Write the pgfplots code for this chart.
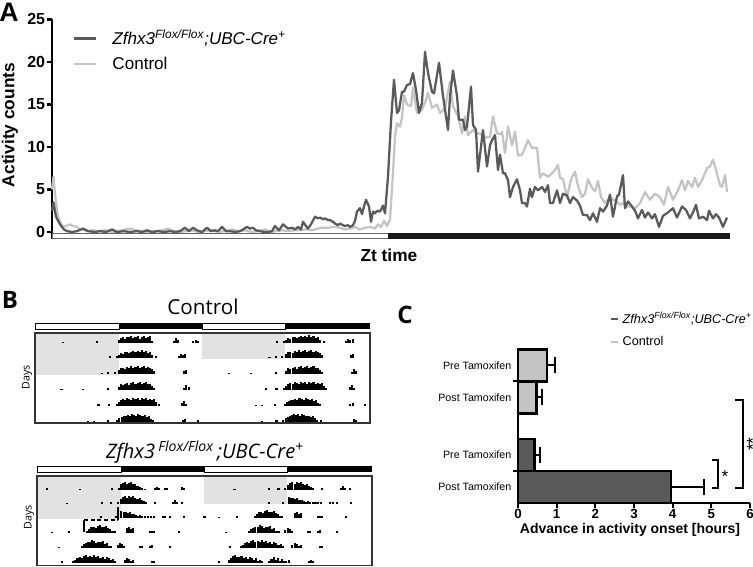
\documentclass[border=0pt]{standalone}
\usepackage{pgfplots}
\pgfplotsset{compat=1.18}
\usepackage{pgfplotstable}
\usepackage{fontspec}
\setmainfont{Liberation Sans}
\newfontfamily\bfont{Open Sans}
\definecolor{dk}{HTML}{5A5A5A}
\definecolor{lt}{HTML}{C4C4C4}
\definecolor{shadegray}{HTML}{E2E2E2}

% ---------- Panel A data (px = horizontal position, v = activity counts)
\pgfplotstableread{
px v
52 2.5
53.5 3.5
56 1.8
60 0.9
64 0.3
67 0.1
72 0.0
77 0.1
83 0.4
88 0.1
95 0.0
100 0.1
106 0.0
112 0.3
117 0.0
124 0.1
130 0.0
137 0.1
142 0.0
147 0.2
152 0.0
158 0.1
164 0.0
170 0.1
175 0.0
180 0.1
185 0.5
189 0.1
193 0.5
197 0.2
202 0.0
207 0.5
211 0.1
215 0.2
218 0.1
222 0.6
226 0.1
230 0.1
235 0.0
240 0.1
243 0.3
247 0.6
250 0.4
253 0.5
256 0.2
260 0.1
264 0.0
268 0.0
272 0.1
275 0.7
279 0.2
283 0.9
286 0.6
288 0.4
292 0.5
295 0.3
298 0.6
301 0.3
303 1.2
306 0.7
308 0.4
311 0.9
315 1.8
318 1.6
320 1.7
323 1.5
325 1.6
328 1.4
330 1.4
333 1.2
335 1.0
338 0.8
340 1.0
343 0.8
345 0.7
348 0.8
350 0.6
353 0.8
355 1.3
357 2.4
360 2.8
362 2.1
364 3.0
366 3.8
369 3.0
371 1.2
373 2.4
375 2.2
377 2.5
380 2.4
383 3.1
385 2.2
388 6.5
391 13.0
394 17.9
397 14.0
399 14.3
402 16.5
404 16.5
407 17.3
410 17.4
413 18.7
416 16.7
419 14.0
422 15.2
425 21.2
428 18.7
432 16.5
434 16.3
439 19.9
443 16.0
448 12.0
450 15.9
453 19.0
457 16.0
459 13.2
463 13.2
465 12.0
467 12.4
471 17.1
473 12.6
476 12.0
478 7.1
483 12.0
487 7.7
490 10.2
492 10.8
495 11.4
498 7.3
500 9.1
503 6.9
505 6.9
508 6.1
510 4.1
513 5.3
517 6.2
520 4.9
522 3.4
525 3.4
527 3.0
530 5.1
532 4.1
535 5.3
538 4.9
542 5.3
545 4.7
548 5.5
550 3.4
553 3.4
557 4.9
560 3.4
563 4.5
567 4.3
570 3.4
573 4.1
577 3.7
580 3.1
583 2.0
587 2.0
590 1.4
593 2.2
597 1.2
600 2.8
603 2.4
607 3.1
610 4.4
613 1.8
617 4.2
619 4.4
623 6.7
625 2.8
628 3.6
632 3.0
635 2.5
638 1.6
642 2.6
645 1.7
648 2.3
652 1.6
655 2.1
659 0.6
663 1.9
668 2.3
673 2.8
677 1.7
682 3.0
686 2.6
690 1.6
693 2.3
696 3.2
699 1.6
703 1.8
707 1.4
709 2.5
713 1.6
716 2.1
719 1.7
723 0.6
727 1.7
}\dataZ

\pgfplotstableread{
px v
52 5.0
53.5 6.5
55 4.5
58 1.8
61 1.0
63 0.6
66 0.7
70 0.9
73 0.7
77 0.6
80 0.3
83 0.3
88 0.1
93 0.2
98 0.1
105 0.2
112 0.0
118 0.1
125 0.3
130 0.4
136 0.2
142 0.1
148 0.0
155 0.1
162 0.2
168 0.4
174 0.1
180 0.0
186 0.1
192 0.2
198 0.0
205 0.1
212 0.2
218 0.0
225 0.1
232 0.3
238 0.1
245 0.2
252 0.0
258 0.1
265 0.3
270 0.0
276 0.1
282 0.2
288 0.1
295 0.2
300 0.2
306 0.3
312 0.2
318 0.4
322 0.5
328 0.5
334 0.6
340 0.5
345 0.3
350 0.4
355 0.6
360 0.3
365 0.5
370 0.6
375 0.4
378 0.9
381 0.6
384 1.3
387 0.7
390 1.5
393 7.0
395 11.2
397 12.8
400 12.4
402 13.5
404 16.1
407 15.0
411 14.8
413 17.0
417 14.0
422 14.4
425 15.2
428 16.4
432 14.6
437 15.0
440 14.0
445 14.6
450 17.7
453 14.8
458 13.6
462 11.6
465 13.6
468 11.4
473 12.0
477 11.6
480 11.6
485 11.1
490 11.2
493 13.6
497 11.6
500 11.5
502 11.8
505 9.3
508 12.4
512 10.2
515 11.8
518 9.0
522 9.1
525 9.9
528 10.8
532 9.9
537 9.9
540 6.4
543 6.9
548 6.5
552 6.9
555 7.3
558 7.9
560 6.4
563 6.2
567 4.1
571 6.2
575 7.1
578 5.4
582 4.1
585 4.5
588 6.2
592 5.2
595 4.8
598 6.0
601 4.1
605 3.4
610 4.1
613 3.8
617 3.6
620 3.2
623 3.4
627 3.0
630 3.0
635 2.8
640 3.4
645 4.7
650 3.8
655 4.5
660 4.1
664 3.2
668 5.3
673 3.8
678 4.9
682 6.1
685 4.9
688 6.0
692 5.3
695 6.4
698 5.3
702 6.1
707 7.5
710 7.7
713 8.5
716 7.3
720 5.5
722 5.3
725 6.7
727 4.7
}\dataC

% ---------- Panel B actogram data: hour of day, relative bar height
\pgfplotstableread{
x h
4.0 0.15
8.9 0.25
12.0 0.4
12.3 0.6
12.6 0.7
12.9 0.5
13.2 0.8
13.5 0.7
13.8 0.9
14.1 0.6
14.4 0.8
14.7 0.9
15.0 0.5
15.3 0.8
15.6 0.9
15.9 0.6
16.2 0.7
16.5 0.9
16.8 0.3
19.9 0.3
20.2 0.6
20.5 0.4
22.7 0.2
23.1 0.4
23.4 0.3
}\cA
\pgfplotstableread{
x h
10.7 0.2
11.7 0.3
12.0 0.4
12.3 0.6
12.6 0.5
12.9 0.7
13.2 0.8
13.5 0.6
13.8 0.8
14.1 0.9
14.4 0.7
14.7 0.9
15.0 0.8
15.3 1.0
15.6 0.7
15.9 0.9
16.2 0.6
16.5 0.8
16.8 0.4
17.4 0.3
20.6 0.3
20.9 0.5
21.2 0.4
21.5 0.5
}\cB
\pgfplotstableread{
x h
9.6 0.15
10.5 0.2
11.4 0.2
12.0 0.5
12.3 0.7
12.6 0.8
12.9 0.6
13.2 0.9
13.5 0.8
13.8 1.0
14.1 0.7
14.4 0.9
14.7 1.0
15.0 0.8
15.3 0.9
15.6 1.0
15.9 0.7
16.2 0.9
16.5 0.8
16.8 0.6
17.1 0.4
21.3 0.4
21.6 0.5
}\cC
\pgfplotstableread{
x h
3.8 0.15
6.9 0.15
10.5 0.25
12.0 0.4
12.3 0.7
12.6 0.6
12.9 0.8
13.2 0.9
13.5 0.6
13.8 0.9
14.1 1.0
14.4 0.8
14.7 0.9
15.0 1.0
15.3 0.7
15.6 0.9
15.9 1.0
16.2 0.7
16.5 0.8
16.8 0.5
17.1 0.3
21.4 0.3
21.7 0.6
22.0 0.4
}\cD
\pgfplotstableread{
x h
9.1 0.2
10.6 0.25
11.7 0.3
12.0 0.5
12.3 0.7
12.6 0.9
12.9 0.8
13.2 1.0
13.5 0.9
13.8 0.7
14.1 1.0
14.4 0.9
14.7 1.0
15.0 0.8
15.3 1.0
15.6 0.9
15.9 1.0
16.2 0.8
16.5 0.9
16.8 0.7
17.1 0.9
17.4 0.5
17.7 0.3
21.1 0.4
21.4 0.6
21.7 0.3
}\cE
\pgfplotstableread{
x h
7.6 0.15
8.5 0.15
10.4 0.2
11.8 0.3
12.1 0.5
12.4 0.6
12.7 0.8
13.0 0.7
13.3 0.9
13.6 0.8
13.9 1.0
14.2 0.9
14.5 0.7
14.8 1.0
15.1 0.9
15.4 0.8
15.7 0.9
16.0 0.6
16.3 0.7
16.6 0.4
16.9 0.3
21.2 0.3
21.5 0.4
23.3 0.2
}\cF
\pgfplotstableread{
x h
8.5 0.15
10.6 0.2
11.6 0.3
11.9 0.5
12.2 0.6
12.5 0.8
12.8 0.9
13.1 1.0
13.4 0.9
13.7 1.0
14.0 0.8
14.3 1.0
14.6 0.9
14.9 0.7
15.2 0.8
15.5 0.6
15.8 0.7
16.1 0.5
16.4 0.3
17.0 0.2
21.7 0.4
22.0 0.3
}\cG

\pgfplotstableread{
x h
1.4 0.2
6.2 0.15
10.7 0.25
11.8 0.3
12.0 0.7
12.3 0.9
12.6 1.0
12.9 0.8
13.2 0.9
13.5 1.0
13.8 0.7
14.1 0.8
14.4 0.5
14.7 0.4
15.0 0.3
15.5 0.15
16.9 0.3
17.2 0.4
17.5 0.2
18.3 0.2
18.6 0.3
20.8 0.4
21.0 0.3
}\mA
\pgfplotstableread{
x h
4.3 0.15
9.3 0.2
10.6 0.25
11.6 0.3
12.0 0.6
12.3 0.9
12.6 1.0
12.9 0.8
13.2 1.0
13.5 0.9
13.8 1.0
14.1 0.8
14.4 0.6
14.7 0.7
15.0 0.5
15.3 0.4
15.6 0.3
16.9 0.2
19.5 0.3
19.8 0.5
20.1 0.3
20.8 0.25
}\mB
\pgfplotstableread{
x h
9.2 0.2
11.3 0.2
12.1 0.9
12.4 0.8
12.7 0.7
13.0 0.6
13.3 0.7
13.6 0.5
13.9 0.5
14.2 0.4
14.5 0.3
14.8 0.4
15.1 0.3
15.5 0.25
15.9 0.3
16.3 0.2
16.7 0.25
18.0 0.3
18.4 0.2
19.0 0.2
21.0 0.2
}\mC
\pgfplotstableread{
x h
0.0 0.2
2.1 0.15
4.6 0.2
7.2 0.3
7.5 0.5
7.8 0.7
8.1 0.8
8.4 0.6
8.7 0.9
9.0 1.0
9.3 0.8
9.6 0.7
9.9 0.9
10.2 0.6
10.5 0.5
10.8 0.3
11.1 0.2
12.9 0.6
13.2 0.7
13.5 0.5
13.8 0.6
16.2 0.3
16.5 0.25
16.8 0.2
20.3 0.2
}\mD
\pgfplotstableread{
x h
3.1 0.15
6.4 0.3
6.7 0.5
7.0 0.6
7.3 0.8
7.6 0.7
7.9 1.0
8.2 0.9
8.5 0.6
8.8 0.8
9.1 0.7
9.4 0.9
9.7 0.5
10.0 0.6
10.3 0.3
10.6 0.2
11.6 0.4
11.9 0.6
12.2 0.5
12.5 0.3
14.8 0.3
15.1 0.2
16.2 0.3
16.5 0.4
19.0 0.2
}\mE
\pgfplotstableread{
x h
3.6 0.2
5.2 0.25
5.5 0.4
5.8 0.6
6.1 0.7
6.4 0.6
6.7 0.9
7.0 1.0
7.3 0.8
7.6 0.9
7.9 0.7
8.2 1.0
8.5 0.8
8.8 0.9
9.1 0.6
9.4 0.7
9.7 0.5
10.0 0.8
10.3 0.6
10.6 0.4
10.9 0.5
11.2 0.3
12.6 0.4
12.9 0.6
13.2 0.5
13.5 0.3
13.8 0.4
16.5 0.3
16.8 0.2
}\mF
\pgfplotstableread{
x h
2.1 0.2
3.5 0.4
3.8 0.6
4.1 0.9
4.4 1.0
4.7 0.7
5.0 0.8
5.3 0.9
5.6 0.6
5.9 0.7
6.2 0.5
6.5 0.8
6.8 0.6
7.1 0.4
7.4 0.6
7.7 0.3
8.0 0.4
8.3 0.3
9.3 0.3
9.6 0.5
9.9 0.7
10.2 0.4
10.5 0.6
10.8 0.3
11.1 0.5
11.4 0.3
11.7 0.2
12.1 0.4
15.0 0.3
15.3 0.4
15.6 0.2
}\mG

\pgfplotsset{acto/.style={scale only axis, width=251.25pt, height=6pt,
  xmin=0, xmax=48, ymin=0, ymax=1, hide axis, anchor=south west, clip=false}}
% #1,#2 = left edge and baseline in picture pixels
\newcommand{\actrow}[4]{%
  \begin{axis}[acto, at={(#1*0.75pt,-#2*0.75pt)}]
  \addplot[ycomb, black, line width=1.55pt, no marks] table[x=x, y=h] {#3};
  \addplot[ycomb, black, line width=1.55pt, no marks] table[x expr=\thisrow{x}+24, y=h] {#4};
  \end{axis}}

\begin{document}
\begin{tikzpicture}[x=0.75pt, y=-0.75pt]
\useasboundingbox (0,0) rectangle (753,567);

% ================= Panel A =================
\node[font=\bfseries\fontsize{20}{22}\selectfont] at (9,12) {A};
\begin{axis}[
  at={(39pt,-179.1pt)}, anchor=south west, scale only axis,
  width=508.5pt, height=164.5pt,
  xmin=0, xmax=24, ymin=-0.8, ymax=25,
  axis x line=none, axis y line*=left,
  y axis line style={line width=1.6pt},
  ytick={0,5,10,15,20,25},
  ytick style={line width=1.6pt, black},
  tick align=outside, major tick length=4pt,
  /pgf/number format/assume math mode=true,
  yticklabel style={font=\bfseries\fontsize{12}{14}\selectfont, inner sep=1pt},
  ylabel={Activity counts},
  ylabel style={font=\bfseries\fontsize{13}{15}\selectfont, at={(axis description cs:-0.062,0.519)}, anchor=center},
  clip=false,
  legend style={draw=none, fill=none, at={(axis description cs:0.030,0.958)}, anchor=north west,
    font=\fontsize{12.8}{15}\selectfont, inner sep=0pt, row sep=5.5pt, nodes={inner sep=1pt}, cells={anchor=west}},
  legend image code/.code={\draw[#1, line width=1.9pt] (0pt,0pt) -- (16.5pt,0pt);},
  /tikz/every odd column/.append style={column sep=10.5pt},
]
\addlegendimage{dk}
\addlegendentry{\itshape Zfhx3\textsuperscript{Flox/Flox};UBC-Cre\textsuperscript{+}}
\addlegendimage{lt}
\addlegendentry{Control}
\addplot[lt, line width=1.7pt, line join=round, no marks, forget plot] table[x expr=(\thisrow{px}-52)/28.25, y=v] {\dataC};
\addplot[dk, line width=1.7pt, line join=round, no marks, forget plot] table[x expr=(\thisrow{px}-52)/28.25, y=v] {\dataZ};
\draw[black!60, line width=0.7pt, fill=white] (axis cs:0,-0.15) rectangle (axis cs:11.9,-0.75);
\fill[black!90] (axis cs:11.9,-0.1) rectangle (axis cs:24,-0.82);
\node[font=\bfseries\fontsize{13}{15}\selectfont] at (axis description cs:0.497,-0.074) {Zt time};
\end{axis}

% ================= Panel B =================
\node[font=\bfont\bfseries\fontsize{18}{20}\selectfont] at (10,300) {B};
\node[font=\bfont\fontsize{15.5}{18}\selectfont] at (203,307) {Control};
\node[font=\bfont\itshape\fontsize{15}{18}\selectfont] at (205,452) {Zfhx3\,\textsuperscript{Flox/Flox}\,;UBC-Cre\textsuperscript{+}};
% LD bars
\draw[line width=0.6pt, fill=white] (35,323) rectangle (119,329);
\fill[black] (119,323) rectangle (202,329);
\draw[line width=0.6pt, fill=white] (202,323) rectangle (285,329);
\fill[black] (285,323) rectangle (370,329);
\draw[line width=0.6pt, fill=white] (37,466) rectangle (121,472);
\fill[black] (121,466) rectangle (204,472);
\draw[line width=0.6pt, fill=white] (204,466) rectangle (287,472);
\fill[black] (287,466) rectangle (372,472);
% shaded light periods
\fill[shadegray] (35,333) rectangle (119,375);
\fill[shadegray] (202,333) rectangle (285,359);
\fill[shadegray] (37,476) rectangle (121,519);
\fill[shadegray] (204,476) rectangle (287,504);
% Days labels
\node[rotate=90, font=\bfont\fontsize{8}{9}\selectfont] at (27,377) {Days};
\node[rotate=90, font=\bfont\fontsize{8}{9}\selectfont] at (29,517) {Days};
% control rows
\actrow{35}{343}{\cA}{\cB}
\actrow{35}{358}{\cB}{\cC}
\actrow{35}{374}{\cC}{\cD}
\actrow{35}{390}{\cD}{\cE}
\actrow{35}{406}{\cE}{\cF}
\actrow{35}{422}{\cF}{\cG}
% mutant rows
\actrow{37}{490}{\mA}{\mB}
\actrow{37}{504}{\mB}{\mC}
\actrow{37}{518}{\mC}{\mD}
\actrow{37}{533}{\mD}{\mE}
\actrow{37}{548}{\mE}{\mF}
\actrow{37}{563}{\mF}{\mG}
% frames
\draw[line width=1.1pt, black!80] (35,333) rectangle (370,423);
\draw[line width=1.1pt, black!80] (37,476) rectangle (372,565.5);
% onset shift marker
\draw[densely dashed, line width=0.8pt] (84,520) -- (118,520);
\draw[line width=0.8pt] (118,507) -- (118,520);
\draw[line width=0.8pt] (84,520) -- (84,532);

% ================= Panel C =================
\node[font=\bfont\bfseries\fontsize{18}{20}\selectfont] at (405,315) {C};
\begin{axis}[
  at={(388.5pt,-377.25pt)}, anchor=south west, scale only axis,
  width=174pt, height=115.2pt,
  xmin=0, xmax=6, ymin=0, ymax=4.8,
  xbar, bar width=1, bar shift=0pt,
  axis x line*=bottom, axis y line*=left,
  axis line style={line width=1.5pt},
  xtick={0,1,2,3,4,5,6}, tick align=outside, major tick length=3.5pt,
  xtick style={line width=1.5pt, black},
  ytick={0.5,1.5,3.3,4.3},
  yticklabels={Post Tamoxifen,Pre Tamoxifen,Post Tamoxifen,Pre Tamoxifen},
  ytick style={draw=none},
  yticklabel style={font=\fontsize{8}{10}\selectfont, xshift=2pt},
  xticklabel style={font=\bfseries\fontsize{10}{12}\selectfont, yshift=2.5pt},
  /pgf/number format/assume math mode=true,
  xlabel={Advance in activity onset [hours]},
  xlabel style={font=\bfseries\fontsize{10.5}{12}\selectfont, at={(axis description cs:0.483,-0.172)}, anchor=center},
  clip=false,
  legend style={draw=none, fill=none, at={(axis description cs:0.397,1.255)}, anchor=north west,
    font=\fontsize{9.5}{11}\selectfont, inner sep=0pt, row sep=6pt, nodes={inner sep=1pt}, cells={anchor=west}},
  legend image code/.code={\draw[#1, line width=1.5pt] (0pt,0pt) -- (5.25pt,0pt);},
  /tikz/every odd column/.append style={column sep=1.5pt},
]
\addlegendimage{dk}
\addlegendentry{\itshape Zfhx3\textsuperscript{Flox/Flox};UBC-Cre\textsuperscript{+}}
\addlegendimage{lt}
\addlegendentry{Control}
\addplot[forget plot, bar shift=0pt, fill=lt, draw=black, line width=1.9pt,
  error bars/.cd, x dir=plus, x explicit,
  error bar style={line width=1.5pt, black},
  error mark options={rotate=90, line width=1.5pt, mark size=6pt, black}]
  coordinates {(0.75,4.3) +- (0.21,0) (0.48,3.3) +- (0.14,0)};
\addplot[forget plot, bar shift=0pt, fill=dk, draw=black, line width=1.9pt,
  error bars/.cd, x dir=plus, x explicit,
  error bar style={line width=1.5pt, black},
  error mark options={rotate=90, line width=1.5pt, mark size=6pt, black}]
  coordinates {(0.43,1.5) +- (0.15,0) (3.96,0.5) +- (0.86,0)};
\draw[line width=1.5pt] (axis cs:0,3.8) -- ++(-3.75pt,0);
\draw[line width=1.5pt] (axis cs:0,1.0) -- ++(-3.75pt,0);
\end{axis}
% significance brackets
\draw[line width=1.1pt] (712,460) -- (718,460) -- (718,488) -- (712,488);
\draw[line width=1.1pt] (735,400) -- (743,400) -- (743,488) -- (735,488);
\node[font=\fontsize{13}{15}\selectfont] at (725,477) {*};
\node[font=\fontsize{13}{15}\selectfont, rotate=90] at (753,444) {**};
\end{tikzpicture}
\end{document}
